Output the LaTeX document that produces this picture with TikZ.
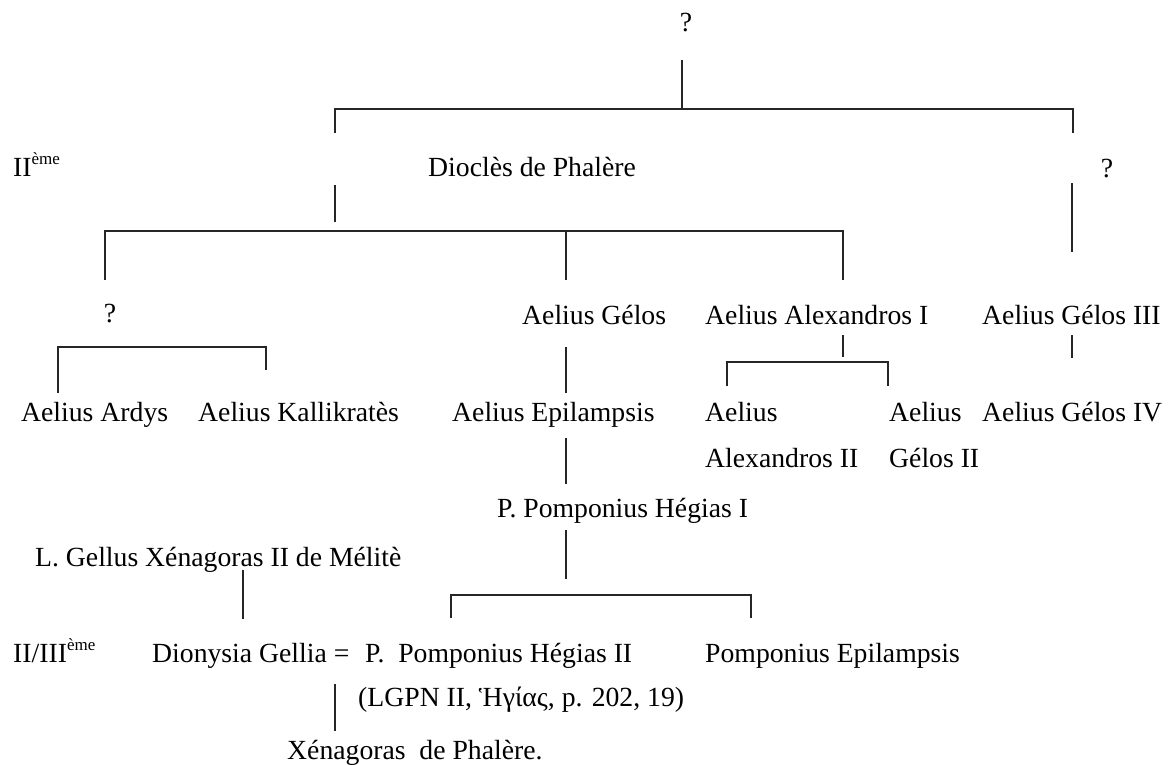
\documentclass[tikz,border=0pt]{standalone}
\usepackage{fontspec}
\setmainfont{Liberation Serif}
\newcommand{\fsmain}{\fontsize{27.7pt}{33pt}\selectfont}
\newcommand{\eme}{\raisebox{0.42em}{\fontsize{17pt}{17pt}\selectfont ème}}
\begin{document}
\begin{tikzpicture}[x=1pt,y=-1pt,
  lbl/.style={anchor=base west,inner sep=0pt,font=\fsmain},
  qm/.style={anchor=base,inner sep=0pt,font=\fsmain},
  link/.style={line width=1.4pt,draw=black!85}]
\useasboundingbox[fill=white] (0,0) rectangle (1170,765);

% texts
\node[qm]  (q1)   at (686,32)  {?};
\node[lbl] (gen1) at (13,176)  {II\eme};
\node[lbl] (dio)  at (428,176) {Dioclès de Phalère};
\node[qm]  (q2)   at (1107,177) {?};
\node[qm]  (q3)   at (110,322) {?};
\node[lbl] (gel)  at (522,324) {Aelius Gélos};
\node[lbl] (alx)  at (705,324) {Aelius Alexandros I};
\node[lbl] (gel3) at (982,324) {Aelius Gélos III};
\node[lbl] (ard)  at (21,421)  {Aelius Ardys};
\node[lbl] (kal)  at (198,421) {Aelius Kallikratès};
\node[lbl] (epi)  at (452,421) {Aelius Epilampsis};
\node[lbl] (alx2a) at (705,421) {Aelius};
\node[lbl] (alx2b) at (705,467) {Alexandros II};
\node[lbl] (gel2a) at (889,421) {Aelius};
\node[lbl] (gel2b) at (889,467) {Gélos II};
\node[lbl] (gel4) at (982,421) {Aelius Gélos IV};
\node[lbl] (heg1) at (497,517) {P. Pomponius Hégias I};
\node[lbl] (gell) at (35,566)  {L. Gellus Xénagoras II de Mélitè};
\node[lbl] (gen2) at (13,662)  {II/III\eme};
\node[lbl] (dion) at (152,662) {Dionysia Gellia =};
\node[lbl] (heg2) at (365,662) {P.\ \ Pomponius Hégias II};
\node[lbl] (epi2) at (705,662) {Pomponius Epilampsis};
\node[lbl] (lgpn) at (358,706) {(LGPN II, Ἡγίας, p. 202, 19)};
\node[lbl] (xen)  at (287,759) {Xénagoras\ \ de Phalère.};

% connector points
\coordinate (a1) at (682,60);   \coordinate (a2) at (682,109);
\coordinate (b1) at (335,133);  \coordinate (b2) at (335,109);
\coordinate (b3) at (1073,109); \coordinate (b4) at (1073,133);
\coordinate (c1) at (335,185);  \coordinate (c2) at (335,222);
\coordinate (d1) at (105,280);  \coordinate (d2) at (105,231);
\coordinate (d3) at (843,231);  \coordinate (d4) at (843,280);
\coordinate (d5) at (566,231);  \coordinate (d6) at (566,280);
\coordinate (e1) at (1072,183); \coordinate (e2) at (1072,252);
\coordinate (f1) at (58,393);   \coordinate (f2) at (58,347);
\coordinate (f3) at (266,347);  \coordinate (f4) at (266,370);
\coordinate (g1) at (566,347);  \coordinate (g2) at (566,393);
\coordinate (h1) at (843,335);  \coordinate (h2) at (843,357);
\coordinate (i1) at (727,386);  \coordinate (i2) at (727,362);
\coordinate (i3) at (888,362);  \coordinate (i4) at (888,386);
\coordinate (j1) at (1072,335); \coordinate (j2) at (1072,358);
\coordinate (k1) at (566,438);  \coordinate (k2) at (566,484);
\coordinate (l1) at (566,530);  \coordinate (l2) at (566,579);
\coordinate (m1) at (451,618);  \coordinate (m2) at (451,595);
\coordinate (m3) at (751,595);  \coordinate (m4) at (751,618);
\coordinate (n1) at (243,570);  \coordinate (n2) at (243,619);
\coordinate (o1) at (335,684);  \coordinate (o2) at (335,731);

\draw[link] (a1) -- (a2);
\draw[link] (b1) -- (b2) -- (b3) -- (b4);
\draw[link] (c1) -- (c2);
\draw[link] (d1) -- (d2) -- (d3) -- (d4);
\draw[link] (d5) -- (d6);
\draw[link] (e1) -- (e2);
\draw[link] (f1) -- (f2) -- (f3) -- (f4);
\draw[link] (g1) -- (g2);
\draw[link] (h1) -- (h2);
\draw[link] (i1) -- (i2) -- (i3) -- (i4);
\draw[link] (j1) -- (j2);
\draw[link] (k1) -- (k2);
\draw[link] (l1) -- (l2);
\draw[link] (m1) -- (m2) -- (m3) -- (m4);
\draw[link] (n1) -- (n2);
\draw[link] (o1) -- (o2);
\end{tikzpicture}
\end{document}
